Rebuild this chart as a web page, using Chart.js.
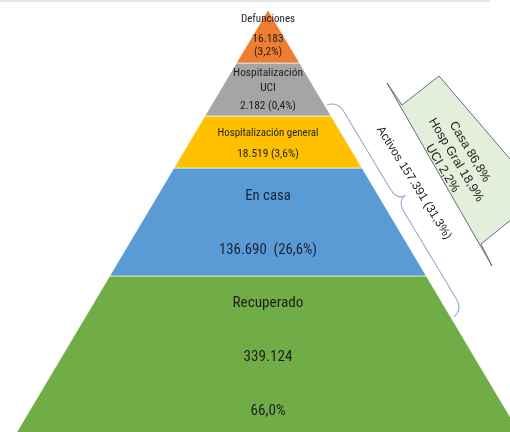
<!DOCTYPE html>
<html>
<head>
<meta charset="utf-8">
<script src="https://cdn.jsdelivr.net/npm/chart.js@4.4.1/dist/chart.umd.min.js"></script>
<style>
  html, body { margin: 0; padding: 0; background: #fff; }
  canvas { display: block; }
</style>
</head>
<body>
<canvas id="pyramid" width="510" height="432"></canvas>
<script>
// datos (de arriba hacia abajo)
const categories = ['Defunciones', 'Hospitalización UCI', 'Hospitalización general', 'En casa', 'Recuperado']
const counts = [16183, 2182, 18519, 136690, 339124]
const shares = [3.2, 0.4, 3.6, 26.6, 66.0]
const activeLabel = 'Activos'
const activeCount = 157391
const activeShare = 31.3
const calloutLabels = ['Casa', 'Hosp Gral', 'UCI']
const calloutShares = [86.8, 18.9, 2.2]

// layout de la piramide (pixeles del lienzo)
const apex = { x: 268, y: 10 }
const slope = 0.595
const edges = [10, 63, 116, 168, 276, 450]
const colors = ['#ED7D31', '#A5A5A5', '#FFC000', '#5B9BD5', '#70AD47']
const rowY = [[19, 39, 52], [73, 88, 106], [133, 154], [196, 250], [303, 357, 411]]
const rowSize = [[11, 11.5, 11.5], [11.4, 11.4, 11.4], [10.9, 11.4], [14.8, 14.8], [15.2, 15.2, 15.2]]
const FONT = '"Liberation Sans Narrow", "Roboto Condensed", Roboto, sans-serif'
const FONT_WIDE = '"Liberation Sans", Arial, sans-serif'

const fmtInt = n => String(n).replace(/\B(?=(\d{3})+(?!\d))/g, '.')
const fmtPct = p => p.toFixed(1).replace('.', ',') + '%'

function layerLines(i) {
  const n = fmtInt(counts[i]), p = fmtPct(shares[i])
  if (i === 0) return [categories[0], n, '(' + p + ')']
  if (i === 1) return [...categories[1].split(' '), n + ' (' + p + ')']
  if (i === 2) return [categories[2], n + ' (' + p + ')']
  if (i === 3) return [categories[3], n + '  (' + p + ')']
  return [categories[4], n, p]
}

// cada capa es un trapecio cerrado
function layerPoints(i) {
  const top = edges[i], bot = edges[i + 1]
  const ht = (top - apex.y) * slope, hb = (bot - apex.y) * slope
  return [
    { x: apex.x - ht, y: top },
    { x: apex.x + ht, y: top },
    { x: apex.x + hb, y: bot },
    { x: apex.x - hb, y: bot },
    { x: apex.x - ht, y: top }
  ]
}

const datasets = categories.map((c, i) => ({
  label: c,
  data: layerPoints(i),
  showLine: true,
  fill: 'shape',
  backgroundColor: colors[i],
  borderColor: 'rgba(255,255,255,0.6)',
  borderWidth: 1,
  pointRadius: 0,
  tension: 0
}))

const annotations = {
  id: 'annotations',
  afterDatasetsDraw(chart) {
    const ctx = chart.ctx
    const xs = chart.scales.x, ys = chart.scales.y
    const px = v => xs.getPixelForValue(v)
    const py = v => ys.getPixelForValue(v)
    ctx.save()

    // linea fina arriba
    ctx.strokeStyle = '#dde7f3'
    ctx.lineWidth = 2
    ctx.beginPath()
    ctx.moveTo(px(0), py(1))
    ctx.lineTo(px(490), py(1))
    ctx.stroke()

    // textos de cada capa
    ctx.textAlign = 'center'
    ctx.textBaseline = 'middle'
    categories.forEach((c, i) => {
      layerLines(i).forEach((t, j) => {
        ctx.font = rowSize[i][j] + 'px ' + FONT
        ctx.fillStyle = i === 3 ? '#14243a' : '#1e1e1e'
        ctx.fillText(t, px(apex.x), py(rowY[i][j]))
      })
    })

    // llave de activos
    ctx.save()
    ctx.translate(px(327), py(105))
    ctx.rotate(59 * Math.PI / 180)
    const L = 247, m = 118, h = 11, t = 10, r = 14
    ctx.strokeStyle = '#94a2cf'
    ctx.lineWidth = 1
    ctx.beginPath()
    ctx.moveTo(0, 0)
    ctx.quadraticCurveTo(2, -h, r, -h)
    ctx.lineTo(m - r, -h)
    ctx.quadraticCurveTo(m, -h, m, -h - t)
    ctx.quadraticCurveTo(m, -h, m + r, -h)
    ctx.lineTo(L - r, -h)
    ctx.quadraticCurveTo(L - 2, -h, L, 0)
    ctx.stroke()
    ctx.restore()

    ctx.save()
    ctx.translate(px(414), py(183))
    ctx.rotate(58 * Math.PI / 180)
    ctx.font = '12px ' + FONT_WIDE
    ctx.fillStyle = '#1e1e1e'
    ctx.fillText(activeLabel + ' ' + fmtInt(activeCount) + ' (' + fmtPct(activeShare) + ')', 0, 0)
    ctx.restore()

    // globo con desglose
    const shape = [[387, 83], [492, 266], [481, 244], [522, 211], [522, 173], [439, 76], [402, 105]]
    ctx.beginPath()
    shape.forEach(([x, y], k) => k ? ctx.lineTo(px(x), py(y)) : ctx.moveTo(px(x), py(y)))
    ctx.closePath()
    ctx.fillStyle = '#E3EFDA'
    ctx.fill()
    ctx.strokeStyle = '#5d6f80'
    ctx.lineWidth = 1
    ctx.stroke()

    ctx.save()
    ctx.translate(px(456), py(160))
    ctx.rotate(59 * Math.PI / 180)
    ctx.font = '12.5px ' + FONT_WIDE
    ctx.fillStyle = '#1e1e1e'
    calloutLabels.forEach((c, k) => {
      ctx.fillText(c + ' ' + fmtPct(calloutShares[k]), 0, (k - 1) * 16)
    })
    ctx.restore()

    ctx.restore()
  }
}

new Chart(document.getElementById('pyramid'), {
  type: 'scatter',
  data: { datasets: datasets },
  options: {
    responsive: false,
    animation: false,
    layout: { padding: 0 },
    plugins: { legend: { display: false }, tooltip: { enabled: false } },
    scales: {
      x: { type: 'linear', display: false, min: 0, max: 510 },
      y: { type: 'linear', display: false, min: 0, max: 432, reverse: true }
    }
  },
  plugins: [annotations]
})
</script>
</body>
</html>
